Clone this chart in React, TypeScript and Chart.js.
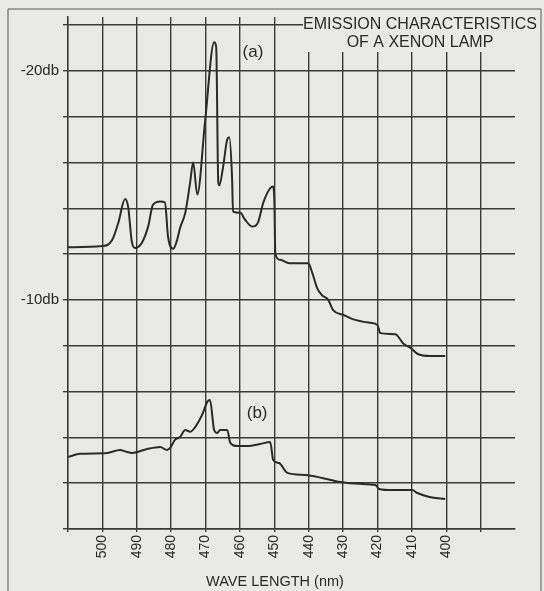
import React, { useEffect, useRef } from 'react';
import { Chart, registerables } from 'chart.js';

Chart.register(...registerables);

// Curve (a): wavelength (nm) and level (db)
const wavelengthsA = [
  510, 500, 497.2, 495.4, 493.4, 492.5, 491.4, 490.5, 488.5, 486.7, 485.3, 483.2, 481.8, 480.9,
  479.4, 478.3, 477.4, 475.9, 474.5, 473.6, 472.4, 470.1, 467.5, 466.9, 466.3, 466.0, 464.9,
  463.7, 463.1, 462.3, 462.0, 459.9, 458.5, 456.4, 454.7, 453.2, 450.4, 450.0, 449.7, 448.3,
  445.4, 440.1, 439.0, 437.5, 436.1, 434.3, 432.9, 429.9, 427.0, 422.1, 420.0, 419.2, 414.8,
  412.5, 409.9, 408.4, 404.6, 400.3,
];
const dbA = [
  -12.3, -12.35, -12.6, -13.35, -14.4, -14.05, -12.5, -12.27, -12.5, -13.2, -14.15, -14.3, -14.25,
  -12.75, -12.23, -12.6, -13.15, -13.8, -15.1, -16.0, -14.6, -17.85, -21.25, -21.05, -15.15,
  -15.0, -15.8, -17.0, -17.1, -15.4, -13.85, -13.8, -13.5, -13.2, -13.4, -14.25, -14.95, -14.4,
  -12.0, -11.75, -11.6, -11.6, -11.2, -10.5, -10.2, -10.0, -9.55, -9.35, -9.15, -9.0, -8.9,
  -8.55, -8.5, -8.1, -7.85, -7.65, -7.55, -7.55,
];

// Curve (b)
const wavelengthsB = [
  510, 506.5, 498.6, 494.9, 492.8, 491.4, 487.0, 483.2, 481.2, 480.3, 478.9, 477.4, 475.9, 474.5,
  473.0, 471.0, 469.5, 468.7, 467.5, 466.6, 465.8, 463.7, 462.8, 460.8, 457.9, 454.1, 451.2,
  450.3, 448.6, 446.2, 441.0, 436.1, 430.8, 425.3, 420.6, 419.5, 415.7, 409.9, 408.4, 404.9, 400.3,
];
const dbB = [
  -3.15, -3.28, -3.32, -3.45, -3.36, -3.32, -3.49, -3.58, -3.45, -3.54, -3.89, -4.02, -4.32, -4.24,
  -4.45, -4.98, -5.55, -5.63, -4.32, -4.19, -4.32, -4.32, -3.76, -3.62, -3.62, -3.71, -3.8,
  -3.0, -2.88, -2.45, -2.36, -2.23, -2.05, -1.97, -1.92, -1.75, -1.7, -1.7, -1.57, -1.4, -1.31,
];

const xTicks = [510, 500, 490, 480, 470, 460, 450, 440, 430, 420, 410, 400, 390];
const xTickLabels = ['', '500', '490', '480', '470', '460', '450', '440', '430', '420', '410', '400', ''];
const yTicks = [-22, -20, -18, -16, -14, -12, -10, -8, -6, -4, -2, 0];
const yTickLabels = ['', '-20db', '', '', '', '', '-10db', '', '', '', '', ''];
const titleLines = ['EMISSION CHARACTERISTICS', 'OF A XENON LAMP'];
const xAxisTitle = 'WAVE LENGTH (nm)';
const seriesNames = ['(a)', '(b)'];
// label anchor positions in data units (wavelength, db)
const seriesLabelWavelengths = [456.2, 455.0];
const seriesLabelDb = [-20.8, -5.05];

const BG = '#e9e9e8';
const INK = '#2a2a2a';
const GRID = '#3a3a3a';
const FONT = '"Liberation Sans", Arial, Helvetica, sans-serif';

const decorPlugin = {
  id: 'decor',
  beforeDraw(chart: any) {
    const { ctx, width, height } = chart;
    ctx.save();
    ctx.fillStyle = BG;
    ctx.fillRect(0, 0, width, height);
    ctx.restore();
  },
  afterDraw(chart: any) {
    const { ctx } = chart;
    const xs = chart.scales.x;
    const ys = chart.scales.y;
    ctx.save();
    // cover behind title
    ctx.fillStyle = BG;
    ctx.fillRect(303, 10, 236, 42);
    // outer frame
    ctx.strokeStyle = '#555';
    ctx.lineWidth = 1;
    ctx.beginPath();
    ctx.moveTo(8, 591);
    ctx.lineTo(8, 9);
    ctx.lineTo(541, 9);
    ctx.lineTo(541, 591);
    ctx.stroke();
    // title
    ctx.fillStyle = INK;
    ctx.font = `16px ${FONT}`;
    ctx.textAlign = 'center';
    ctx.textBaseline = 'middle';
    ctx.fillText(titleLines[0], 420, 25);
    ctx.fillText(titleLines[1], 420, 43);
    // series labels
    ctx.font = `17px ${FONT}`;
    for (let i = 0; i < seriesNames.length; i++) {
      ctx.fillText(
        seriesNames[i],
        xs.getPixelForValue(seriesLabelWavelengths[i]),
        ys.getPixelForValue(seriesLabelDb[i])
      );
    }
    // axis title
    ctx.font = `14.5px ${FONT}`;
    ctx.fillText(xAxisTitle, 275, 582);
    ctx.restore();
  },
};

export default function App() {
  const ref = useRef<HTMLCanvasElement | null>(null);
  useEffect(() => {
    if (!ref.current) return;
    const chart = new Chart(ref.current, {
      type: 'scatter',
      data: {
        datasets: [
          {
            label: seriesNames[0],
            data: wavelengthsA.map((x, i) => ({ x, y: dbA[i] })),
            showLine: true,
            borderColor: INK,
            borderWidth: 2,
            pointRadius: 0,
            cubicInterpolationMode: 'monotone',
          },
          {
            label: seriesNames[1],
            data: wavelengthsB.map((x, i) => ({ x, y: dbB[i] })),
            showLine: true,
            borderColor: INK,
            borderWidth: 2,
            pointRadius: 0,
            cubicInterpolationMode: 'monotone',
          },
        ],
      },
      plugins: [decorPlugin],
      options: {
        responsive: false,
        devicePixelRatio: 1,
        animation: false,
        layout: { padding: { left: 0, top: 17, right: 29, bottom: 0 } },
        plugins: { legend: { display: false }, tooltip: { enabled: false }, title: { display: false } },
        scales: {
          x: {
            type: 'linear',
            min: 380,
            max: 510,
            reverse: true,
            afterBuildTicks: (s: any) => {
              s.ticks = xTicks.map((v) => ({ value: v }));
            },
            afterFit: (s: any) => {
              s.height = 62;
            },
            ticks: {
              autoSkip: false,
              minRotation: 90,
              maxRotation: 90,
              padding: 3,
              color: INK,
              font: { family: FONT, size: 14 },
              callback: (v: any) => {
                const i = xTicks.indexOf(Number(v));
                return i >= 0 ? xTickLabels[i] : '';
              },
            },
            grid: { color: GRID, lineWidth: 1.4, tickLength: 3 },
            border: { color: GRID, width: 1.4 },
          },
          y: {
            type: 'linear',
            min: -22.35,
            max: 0,
            reverse: true,
            afterBuildTicks: (s: any) => {
              s.ticks = yTicks.map((v) => ({ value: v }));
            },
            afterFit: (s: any) => {
              s.width = 68;
            },
            ticks: {
              padding: 4,
              color: INK,
              font: { family: FONT, size: 15 },
              callback: (v: any) => {
                const i = yTicks.indexOf(Number(v));
                return i >= 0 ? yTickLabels[i] : '';
              },
            },
            grid: { color: GRID, lineWidth: 1.4, tickLength: 5 },
            border: { color: GRID, width: 1.4 },
          },
        },
      },
    } as any);
    return () => chart.destroy();
  }, []);
  return (
    <div style={{ position: 'fixed', left: 0, top: 0, width: 544, height: 591 }}>
      <canvas ref={ref} width={544} height={591} style={{ display: 'block', width: 544, height: 591 }} />
    </div>
  );
}
